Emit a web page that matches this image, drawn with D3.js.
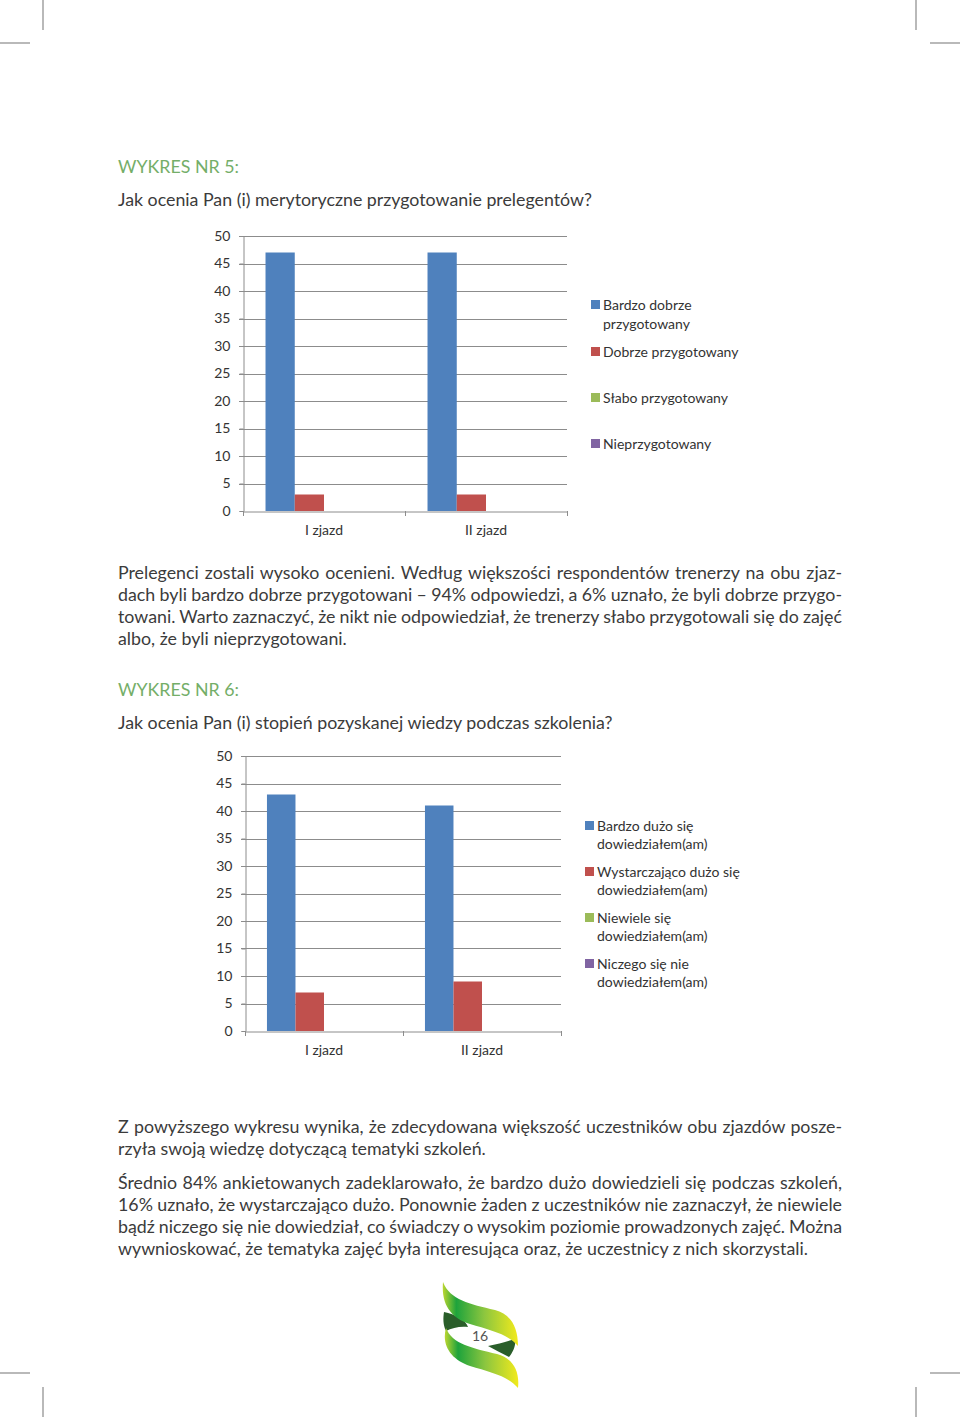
<!DOCTYPE html>
<html>
<head>
<meta charset="utf-8">
<script src="https://cdn.jsdelivr.net/npm/d3@7"></script>
<style>
  html, body { margin: 0; padding: 0; background: #fff; }
  #page { position: relative; width: 960px; height: 1417px; overflow: hidden; }
  svg { position: absolute; left: 0; top: 0; }
  .line { position: absolute; left: 118px; width: 724px; white-space: nowrap; font-family: Lato, "Open Sans", sans-serif; font-size: 17.8px; color: #3b3b3b; line-height: 22px; }
  .just { text-align: justify; text-align-last: justify; }
  .head { color: #74ae68; }
  .measure { position: absolute; visibility: hidden; white-space: nowrap; font-family: Lato, "Open Sans", sans-serif; font-size: 17.8px; }
</style>
</head>
<body>
<div id="page"></div>
<script>
// ---------- data ----------
const categories = ["I zjazd", "II zjazd"];
const yTicks = [0, 5, 10, 15, 20, 25, 30, 35, 40, 45, 50];

const series1 = ["Bardzo dobrze przygotowany", "Dobrze przygotowany", "Słabo przygotowany", "Nieprzygotowany"];
const legend1Lines = [["Bardzo dobrze", "przygotowany"], ["Dobrze przygotowany"], ["Słabo przygotowany"], ["Nieprzygotowany"]];
const values1_bardzoDobrze = [47, 47];
const values1_dobrze = [3, 3];
const values1_slabo = [0, 0];
const values1_nieprzyg = [0, 0];

const series2 = ["Bardzo dużo się dowiedziałem(am)", "Wystarczająco dużo się dowiedziałem(am)", "Niewiele się dowiedziałem(am)", "Niczego się nie dowiedziałem(am)"];
const legend2Lines = [["Bardzo dużo się", "dowiedziałem(am)"], ["Wystarczająco dużo się", "dowiedziałem(am)"], ["Niewiele się", "dowiedziałem(am)"], ["Niczego się nie", "dowiedziałem(am)"]];
const values2_bardzoDuzo = [43, 41];
const values2_wystarczajaco = [7, 9];
const values2_niewiele = [0, 0];
const values2_niczego = [0, 0];

const colors = ["#4f81bd", "#c0504d", "#9bbb59", "#8064a2"];

// ---------- text ----------
const texts = [
  {t: "WYKRES NR 5:", y: 155, cls: "head"},
  {t: "Jak ocenia Pan (i) merytoryczne przygotowanie prelegentów?", y: 188},
  {t: "Prelegenci zostali wysoko ocenieni. Według większości respondentów trenerzy na obu zjaz-", y: 561, cls: "just"},
  {t: "dach byli bardzo dobrze przygotowani – 94% odpowiedzi, a 6% uznało, że byli dobrze przygo-", y: 583, cls: "just"},
  {t: "towani. Warto zaznaczyć, że nikt nie odpowiedział, że trenerzy słabo przygotowali się do zajęć", y: 605, cls: "just"},
  {t: "albo, że byli nieprzygotowani.", y: 627},
  {t: "WYKRES NR 6:", y: 678, cls: "head"},
  {t: "Jak ocenia Pan (i) stopień pozyskanej wiedzy podczas szkolenia?", y: 711},
  {t: "Z powyższego wykresu wynika, że zdecydowana większość uczestników obu zjazdów posze-", y: 1115, cls: "just"},
  {t: "rzyła swoją wiedzę dotyczącą tematyki szkoleń.", y: 1137},
  {t: "Średnio 84% ankietowanych zadeklarowało, że bardzo dużo dowiedzieli się podczas szkoleń,", y: 1171, cls: "just"},
  {t: "16% uznało, że wystarczająco dużo. Ponownie żaden z uczestników nie zaznaczył, że niewiele", y: 1193, cls: "just"},
  {t: "bądź niczego się nie dowiedział, co świadczy o wysokim poziomie prowadzonych zajęć. Można", y: 1215, cls: "just"},
  {t: "wywnioskować, że tematyka zajęć była interesująca oraz, że uczestnicy z nich skorzystali.", y: 1237}
];

const page = d3.select("#page");
const meas = page.append("span").attr("class", "measure");
texts.forEach(d => {
  const div = page.append("div").attr("class", "line " + (d.cls || "")).style("top", d.y + "px").text(d.t);
  if (d.cls === "just") {
    meas.text(d.t);
    const w = meas.node().getBoundingClientRect().width;
    if (w > 724) {
      const spaces = (d.t.match(/ /g) || []).length;
      div.style("word-spacing", ((724 - w) / spaces - 0.05) + "px");
    }
  }
});
meas.remove();

const svg = page.append("svg").attr("width", 960).attr("height", 1417);

// crop marks
const marks = [
  [43, 0, 43, 30], [0, 43, 30, 43],
  [916, 0, 916, 30], [930, 43, 960, 43],
  [43, 1387, 43, 1417], [0, 1373, 30, 1373],
  [916, 1387, 916, 1417], [930, 1373, 960, 1373]
];
svg.selectAll("line.crop").data(marks).join("line").attr("class", "crop")
  .attr("x1", d => d[0]).attr("y1", d => d[1]).attr("x2", d => d[2]).attr("y2", d => d[3])
  .attr("stroke", "#8a8a8a").attr("stroke-width", 1.2);

function drawChart(cfg) {
  const g = svg.append("g");
  const y = d3.scaleLinear().domain([0, 50]).range([cfg.y0, cfg.y50]);
  const x = d3.scaleBand().domain(categories).range([cfg.x0, cfg.x1]).paddingInner(0).paddingOuter(0);
  const xs = d3.scaleBand().domain(cfg.series).range([0, x.bandwidth()]).paddingInner(0).paddingOuter(0.77);

  // gridlines
  g.selectAll("line.grid").data(yTicks.filter(v => v > 0)).join("line")
    .attr("x1", cfg.x0 - 4).attr("x2", cfg.x1)
    .attr("y1", d => Math.round(y(d)) + 0.5).attr("y2", d => Math.round(y(d)) + 0.5)
    .attr("stroke", "#8c8c8c").attr("stroke-width", 1);

  // y axis
  const ya = g.append("g").attr("transform", `translate(${cfg.x0 + 0.5},0)`)
    .call(d3.axisLeft(y).tickValues(yTicks).tickSize(4).tickPadding(9));
  ya.select(".domain").attr("stroke", "#8c8c8c");
  ya.selectAll(".tick line").attr("stroke", "#8c8c8c");
  ya.selectAll("text").attr("font-family", "Lato, sans-serif").attr("font-size", 14).attr("fill", "#333");

  // bars
  const data = categories.map((c, i) => ({c, vals: cfg.values.map((arr, k) => ({s: cfg.series[k], v: arr[i], k}))}));
  g.selectAll("g.cat").data(data).join("g").attr("transform", d => `translate(${x(d.c)},0)`)
    .selectAll("rect").data(d => d.vals).join("rect")
    .attr("x", d => xs(d.s)).attr("width", xs.bandwidth())
    .attr("y", d => y(d.v)).attr("height", d => y(0) - y(d.v))
    .attr("fill", d => colors[d.k]);

  // x axis
  const xa = g.append("g").attr("transform", `translate(0,${Math.round(y(0)) + 0.5})`)
    .call(d3.axisBottom(x).tickSize(0).tickPadding(14));
  xa.select(".domain").attr("stroke", "#8c8c8c");
  xa.selectAll("text").attr("font-family", "Lato, sans-serif").attr("font-size", 14).attr("fill", "#333");
  const bounds = [cfg.x0, cfg.x0 + x.step(), cfg.x1];
  g.selectAll("line.xt").data(bounds).join("line")
    .attr("x1", d => Math.round(d) + 0.5).attr("x2", d => Math.round(d) + 0.5)
    .attr("y1", Math.round(y(0))).attr("y2", Math.round(y(0)) + 5)
    .attr("stroke", "#8c8c8c");

  // legend
  const lg = g.append("g");
  cfg.legendLines.forEach((lines, k) => {
    const ly = cfg.legendY[k];
    lg.append("rect").attr("x", cfg.legX).attr("y", ly - 5).attr("width", 9).attr("height", 9).attr("fill", colors[k]);
    lines.forEach((ln, j) => {
      lg.append("text").attr("x", cfg.legX + 12).attr("y", ly + j * cfg.legLH + 4.5)
        .attr("font-family", "Lato, sans-serif").attr("font-size", 14).attr("fill", "#333").text(ln);
    });
  });
}

drawChart({
  x0: 243, x1: 567, y0: 511, y50: 236,
  series: series1,
  values: [values1_bardzoDobrze, values1_dobrze, values1_slabo, values1_nieprzyg],
  legendLines: legend1Lines, legX: 591, legendY: [305, 352, 398, 444], legLH: 19
});
drawChart({
  x0: 245, x1: 561, y0: 1031, y50: 756,
  series: series2,
  values: [values2_bardzoDuzo, values2_wystarczajaco, values2_niewiele, values2_niczego],
  legendLines: legend2Lines, legX: 585, legendY: [826, 872, 918, 964], legLH: 18.5
});

// logo
const defs = svg.append("defs");
const grad = defs.append("linearGradient").attr("id", "lg").attr("x1", "0%").attr("x2", "100%").attr("y1", "0%").attr("y2", "0%");
grad.append("stop").attr("offset", "0%").attr("stop-color", "#bcd630");
grad.append("stop").attr("offset", "18%").attr("stop-color", "#1ea33c");
grad.append("stop").attr("offset", "55%").attr("stop-color", "#8cc63f");
grad.append("stop").attr("offset", "100%").attr("stop-color", "#f2ea1c");
const logo = svg.append("g");
logo.append("path").attr("fill", "#2a5e2a")
  .attr("d", "M444,1312 C455,1314 466,1320 468,1327 C460,1326 452,1328 446,1331 C443,1325 443,1318 444,1312 Z");
logo.append("path").attr("fill", "#2a5e2a")
  .attr("d", "M488,1346 C498,1344 508,1341 515,1339 C516,1346 513,1352 509,1357 C501,1353 494,1349 488,1346 Z");
logo.append("path").attr("fill", "url(#lg)")
  .attr("d", "M443,1282 C450,1300 470,1304 495,1310 C510,1314 518,1326 518,1346 C508,1334 490,1330 470,1324 C452,1318 441,1306 443,1282 Z");
logo.append("path").attr("fill", "url(#lg)")
  .attr("d", "M446,1328 C452,1344 472,1348 497,1354 C512,1358 520,1370 518,1388 C508,1376 490,1372 470,1366 C452,1360 441,1346 446,1328 Z");
logo.append("text").attr("x", 480).attr("y", 1341).attr("text-anchor", "middle")
  .attr("font-family", "Lato, sans-serif").attr("font-size", 14).attr("fill", "#555").text("16");
</script>
</body>
</html>
